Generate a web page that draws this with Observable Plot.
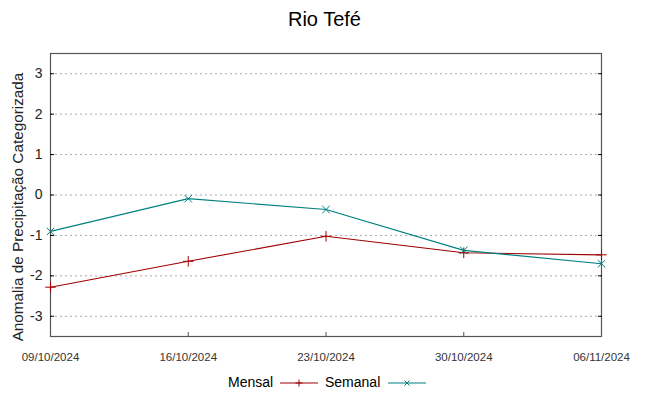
<!DOCTYPE html>
<html>
<head>
<meta charset="utf-8">
<script src="https://cdn.jsdelivr.net/npm/d3@7"></script>
<script src="https://cdn.jsdelivr.net/npm/@observablehq/plot@0.6"></script>
<style>
  body { margin: 0; background: #fff; font-family: "Liberation Sans", Arial, sans-serif; }
  #title { height: 38px; line-height: 38px; text-align: center; font-size: 20px; color: #000; }
  #legend { height: 28px; line-height: 28px; font-size: 14px; color: #000; position: relative; }
  svg { display: block; }
</style>
</head>
<body>
<div id="title">Rio Tefé</div>
<div id="chart"></div>
<div id="legend"></div>
<script>
const dates = ["2024-10-09", "2024-10-16", "2024-10-23", "2024-10-30", "2024-11-06"];
const mensal = [-2.28, -1.64, -1.02, -1.43, -1.48];
const semanal = [-0.90, -0.09, -0.36, -1.37, -1.70];
const yTicks = [-3, -2, -1, 0, 1, 2, 3];
const seriesNames = ["Mensal", "Semanal"];
const seriesColors = ["#a00000", "#008080"];
const yLabel = "Anomalia de Precipitação Categorizada";

const parse = d3.utcParse("%Y-%m-%d");
const fmt = d3.utcFormat("%d/%m/%Y");
const xDates = dates.map(parse);
const rows = [];
xDates.forEach((d, i) => {
  rows.push({date: d, value: mensal[i], series: "Mensal"});
  rows.push({date: d, value: semanal[i], series: "Semanal"});
});
const colorOf = s => seriesColors[seriesNames.indexOf(s)];

const chart = Plot.plot({
  width: 649,
  height: 330,
  marginTop: 15,
  marginBottom: 32,
  marginLeft: 50,
  marginRight: 48,
  style: {fontFamily: "Liberation Sans, Arial, sans-serif", color: "#000"},
  x: {type: "utc", domain: [xDates[0], xDates[xDates.length - 1]]},
  y: {domain: [-3.5, 3.5]},
  marks: [
    Plot.gridY(yTicks, {stroke: "#aaa", strokeOpacity: 1, strokeDasharray: "2,3", strokeWidth: 1}),
    Plot.frame({stroke: "#555", strokeWidth: 1.2}),
    Plot.axisY(yTicks, {anchor: "left", tickSize: -4, tickPadding: 12, fontSize: 14, tickFormat: d => String(d), label: null, stroke: "#000", fill: "#222"}),
    Plot.axisY(yTicks, {anchor: "right", tickSize: -4, text: null, label: null, stroke: "#000"}),
    Plot.axisX(xDates, {anchor: "bottom", tickSize: -4, tickPadding: 20, fontSize: 11.5, tickFormat: fmt, label: null, stroke: "#555", fill: "#333"}),
    Plot.text([yLabel], {frameAnchor: "left", textAnchor: "middle", dx: -32, dy: 12, rotate: -90, fontSize: 15.3, fill: "#222"}),
    Plot.line(rows, {x: "date", y: "value", z: "series", stroke: d => colorOf(d.series), strokeWidth: 1.1}),
    Plot.dot(rows, {x: "date", y: "value", symbol: d => d.series === "Mensal" ? "plus" : "times", stroke: d => colorOf(d.series), r: 3.5, strokeWidth: 1})
  ]
});
document.getElementById("chart").appendChild(chart);

// legend
const leg = document.getElementById("legend");
const ns = "http://www.w3.org/2000/svg";
const items = [
  {name: seriesNames[0], color: seriesColors[0], sym: "plus", textLeft: 228, lineLeft: 280},
  {name: seriesNames[1], color: seriesColors[1], sym: "times", textLeft: 325, lineLeft: 388}
];
items.forEach(it => {
  const t = document.createElement("span");
  t.textContent = it.name;
  t.style.position = "absolute";
  t.style.left = it.textLeft + "px";
  t.style.top = "0px";
  leg.appendChild(t);
  const s = document.createElementNS(ns, "svg");
  s.setAttribute("width", 40);
  s.setAttribute("height", 28);
  s.style.position = "absolute";
  s.style.left = it.lineLeft + "px";
  s.style.top = "0px";
  const l = document.createElementNS(ns, "line");
  l.setAttribute("x1", 0); l.setAttribute("x2", 38);
  l.setAttribute("y1", 15); l.setAttribute("y2", 15);
  l.setAttribute("stroke", it.color); l.setAttribute("stroke-width", 1.1);
  s.appendChild(l);
  const p = document.createElementNS(ns, "path");
  p.setAttribute("d", it.sym === "plus" ? "M19,11.5V18.5M15.5,15H22.5" : "M16.5,12.5L21.5,17.5M16.5,17.5L21.5,12.5");
  p.setAttribute("stroke", it.color); p.setAttribute("fill", "none");
  s.appendChild(p);
  leg.appendChild(s);
});
</script>
</body>
</html>
